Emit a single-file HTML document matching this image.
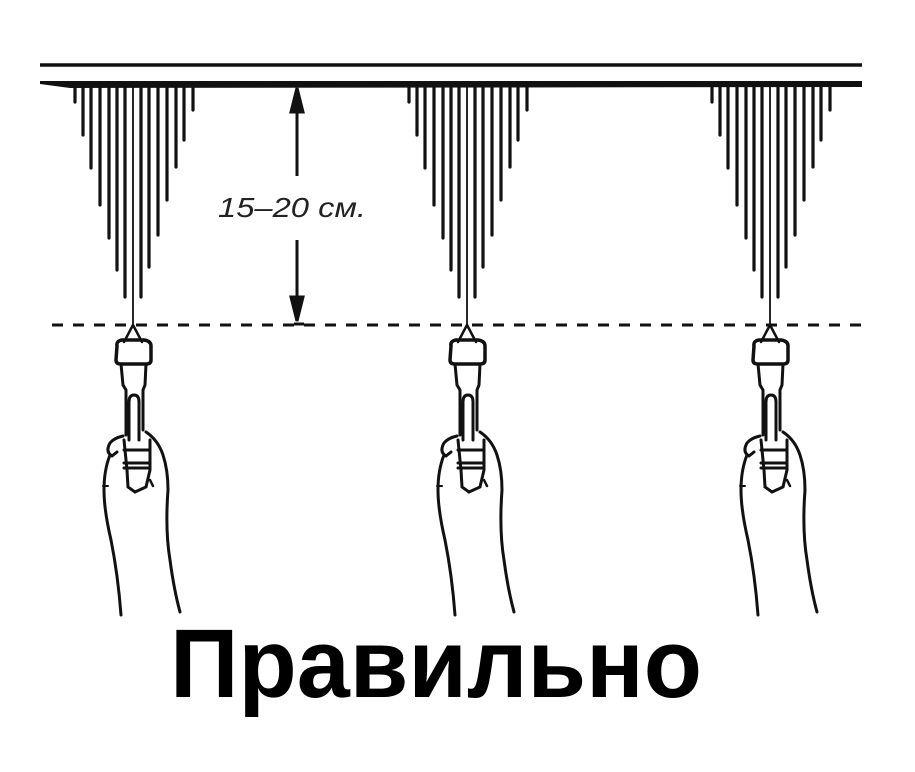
<!DOCTYPE html>
<html><head><meta charset="utf-8"><style>
html,body{margin:0;padding:0;background:#fff;width:915px;height:772px;overflow:hidden}
</style></head><body>
<svg width="915" height="772" viewBox="0 0 915 772" xmlns="http://www.w3.org/2000/svg">
<defs>
<g id="u" stroke="#111" fill="none" stroke-linecap="round">
  <g stroke-width="3.2">
    <line x1="75" y1="86" x2="75" y2="102"/>
    <line x1="83" y1="86" x2="83" y2="135"/>
    <line x1="91" y1="86" x2="91" y2="168"/>
    <line x1="100" y1="86" x2="100" y2="205"/>
    <line x1="109" y1="86" x2="109" y2="238"/>
    <line x1="117" y1="86" x2="117" y2="270"/>
    <line x1="125" y1="86" x2="125" y2="297"/>
    <line x1="141" y1="86" x2="141" y2="297"/>
    <line x1="149" y1="86" x2="149" y2="267"/>
    <line x1="158" y1="86" x2="158" y2="235"/>
    <line x1="167" y1="86" x2="167" y2="200"/>
    <line x1="176" y1="86" x2="176" y2="167"/>
    <line x1="184" y1="86" x2="184" y2="140"/>
    <line x1="193" y1="86" x2="193" y2="110"/>
  </g>
  <line x1="133" y1="86" x2="133" y2="325" stroke-width="1.8"/>
  <path d="M133 325 L124 342 M133 325 L142 342" stroke-width="2.5"/>
  <path d="M117 346 Q116 341 122 340 L144 340 Q151 341 151 346 L151 360 Q151 364 146 364 L121 364 Q116 364 116 360 Z" stroke-width="3.5"/>
  <path d="M121 364 L123 385 L126 390 L126 435 M146 364 L145 385 L143 390 L143 430" stroke-width="3"/>
  <path d="M129 440 L129 402 Q129 395 134 395 Q139 395 139 402 L139 440" stroke-width="3"/>
  <path d="M124 450 L150 450 M124 463 L150 463 M124 468 L150 468" stroke-width="3"/>
  <path d="M124 440 L127 470 L128 487 L135 492 L146 487 L150 470 L150 440" stroke-width="3"/>
  <path d="M123 436 Q114 438 110 443 Q105 452 112 456 L117 452 M110 455 Q104 470 104 490 Q104 510 111 540 Q118 575 121 615" stroke-width="3"/>
  <path d="M146 432 Q158 440 163 455 Q168 470 168 490 Q165 530 170 560 Q174 590 180 612" stroke-width="3"/>
  <path d="M150 480 L153 486" stroke-width="2.5"/>
  <line x1="103" y1="486" x2="108" y2="486" stroke-width="2"/>
</g>
</defs>
<line x1="40" y1="65" x2="862" y2="65" stroke="#111" stroke-width="3.5"/>
<path d="M40 81 L862 81 L862 87 L70 88 Q55 86 40 84 Z" fill="#111"/>
<line x1="52" y1="325" x2="862" y2="325" stroke="#111" stroke-width="3" stroke-dasharray="11 10"/>
<use href="#u"/>
<use href="#u" transform="translate(334 0)"/>
<use href="#u" transform="translate(637 0)"/>
<g stroke="#111" stroke-width="3" fill="#111">
  <line x1="297" y1="100" x2="297" y2="176"/>
  <path d="M291 112 L297 88 L303 112 Z"/>
  <line x1="297" y1="240" x2="297" y2="310"/>
  <path d="M291 297 L297 321 L303 297 Z"/>
  <line x1="294" y1="324" x2="304" y2="324"/>
</g>
<text x="218" y="217" font-family="Liberation Sans, DejaVu Sans, sans-serif" font-style="italic" font-size="28" fill="#222" textLength="148" lengthAdjust="spacingAndGlyphs">15–20 см.</text>
<text x="170" y="697" font-family="Liberation Sans, DejaVu Sans, sans-serif" font-weight="bold" font-size="97" fill="#000" textLength="532" lengthAdjust="spacingAndGlyphs">Правильно</text>
</svg>
</body></html>
